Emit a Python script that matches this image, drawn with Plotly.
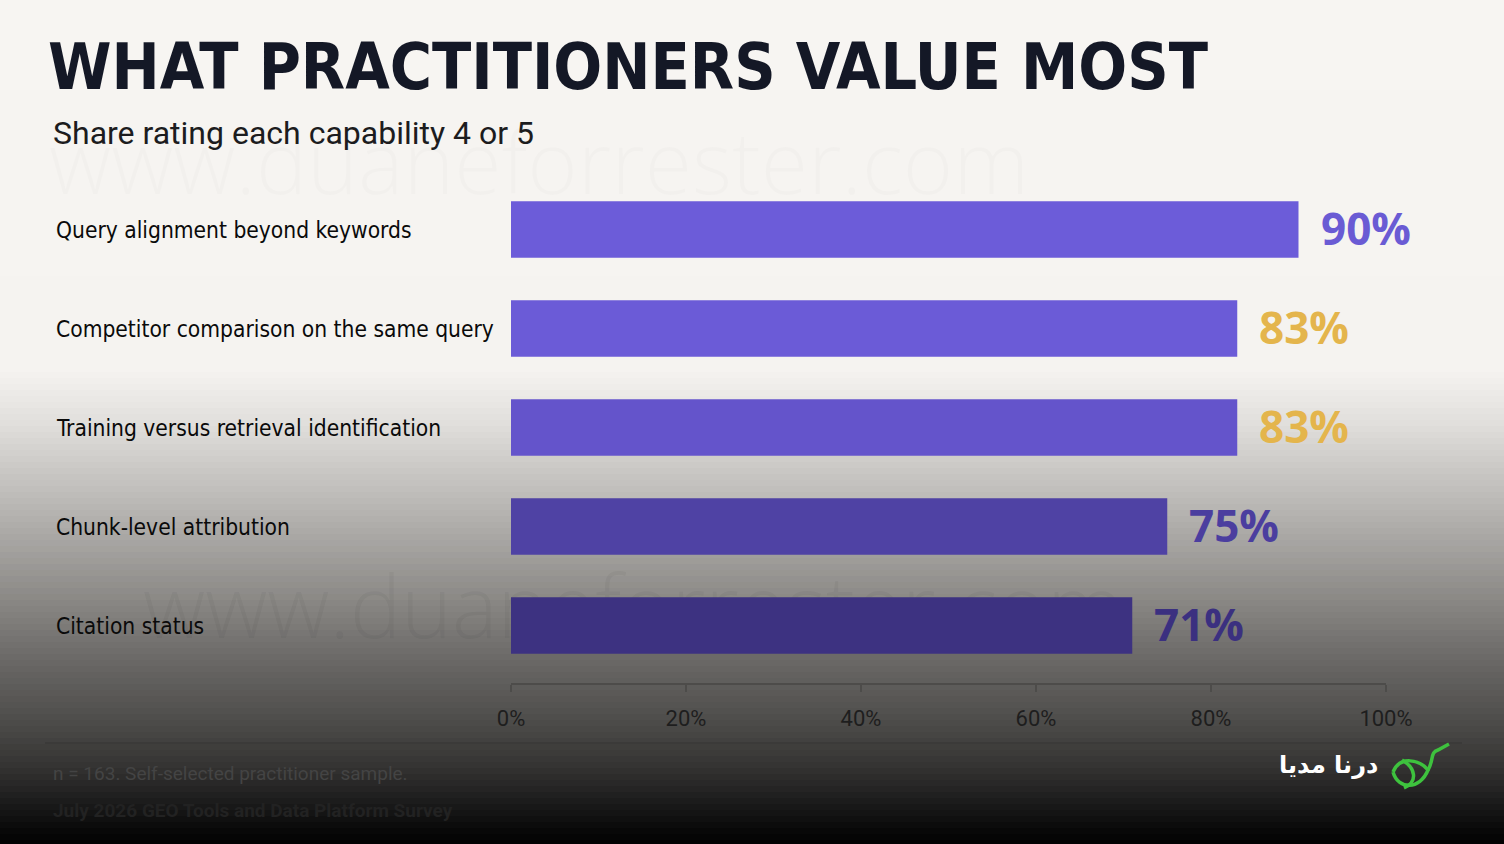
import plotly.graph_objects as go

# ---- data ----
capabilities = [
    "Query alignment beyond keywords",
    "Competitor comparison on the same query",
    "Training versus retrieval identification",
    "Chunk-level attribution",
    "Citation status",
]
share_rating_4_or_5 = [90, 83, 83, 75, 71]
axis_ticks = [0, 20, 40, 60, 80, 100]

title_text = "WHAT PRACTITIONERS VALUE MOST"
subtitle_text = "Share rating each capability 4 or 5"
watermark_text = "www.duaneforrester.com"
note_text = "n = 163. Self-selected practitioner sample."
source_text = "July 2026 GEO Tools and Data Platform Survey"
brand_text = "درنا مدیا"

# ---- styling ----
bar_colors = ["#6c5cd9", "#6b5bd7", "#6454cb", "#4f42a4", "#3d3281"]
value_colors = ["#6a5bd4", "#e4b54c", "#e4b54c", "#4b3e9f", "#3b3080"]
COND = "DejaVu Sans Condensed, Roboto"

W, H = 1504, 844
PLOT_L, PLOT_R = 511, 1386
PLOT_T, PLOT_B = 180, 683


def px_x(x):
    return (x - PLOT_L) / (PLOT_R - PLOT_L)


def px_y(y):
    return (PLOT_B - y) / (PLOT_B - PLOT_T)


def lerp_color(stops, y):
    for (y0, c0), (y1, c1) in zip(stops, stops[1:]):
        if y0 <= y <= y1:
            t = (y - y0) / (y1 - y0) if y1 > y0 else 0
            return "rgb(%d,%d,%d)" % tuple(round(a + (b - a) * t) for a, b in zip(c0, c1))
    return "rgb(%d,%d,%d)" % stops[-1][1]


bg_stops = [
    (0, (247, 245, 242)),
    (370, (245, 243, 240)),
    (420, (226, 224, 221)),
    (480, (197, 195, 192)),
    (540, (168, 166, 163)),
    (600, (138, 136, 133)),
    (660, (106, 104, 102)),
    (720, (78, 77, 75)),
    (770, (50, 49, 48)),
    (810, (22, 22, 22)),
    (844, (0, 0, 0)),
]

shapes = []
step = 6
for y in range(0, H, step):
    shapes.append(dict(
        type="rect", xref="paper", yref="paper", layer="below",
        x0=px_x(-5), x1=px_x(W + 5), y0=px_y(y + step + 1), y1=px_y(y),
        fillcolor=lerp_color(bg_stops, y + step / 2), line=dict(width=0),
    ))

# watermarks drawn as labels of empty shapes so they sit under the bars
for wx, wy, wcol in [(46, 166, "rgba(0,0,0,0.017)"), (140, 610, "rgba(30,30,30,0.045)")]:
    shapes.append(dict(
        type="rect", xref="paper", yref="paper", layer="below",
        x0=px_x(wx), x1=px_x(wx + 1000), y0=px_y(wy + 40), y1=px_y(wy - 40),
        line=dict(width=0), fillcolor="rgba(0,0,0,0)",
        label=dict(text=watermark_text, textposition="middle left", padding=0,
                   font=dict(family="Open Sans", size=86, weight=300, color=wcol)),
    ))

# footer rule
shapes.append(dict(
    type="line", xref="paper", yref="paper",
    x0=px_x(45), x1=px_x(1462), y0=px_y(743), y1=px_y(743),
    line=dict(color="#3b3a39", width=2),
))


def P(x, y):
    return "%.5f,%.5f" % (px_x(x), px_y(y))


# rough brand mark (green crane)
bird = [
    "M" + P(1393, 772) + " C" + P(1400, 755) + " " + P(1420, 760) + " " + P(1428, 770)
    + " C" + P(1420, 790) + " " + P(1398, 790) + " " + P(1393, 772),
    "M" + P(1402, 760) + " C" + P(1416, 768) + " " + P(1418, 782) + " " + P(1404, 788),
    "M" + P(1428, 770) + " C" + P(1434, 760) + " " + P(1430, 752) + " " + P(1438, 750)
    + " L" + P(1449, 744),
]
for d in bird:
    shapes.append(dict(type="path", xref="paper", yref="paper", path=d,
                       line=dict(color="#3ec23e", width=3.5)))

fig = go.Figure()
fig.add_trace(go.Bar(
    x=share_rating_4_or_5,
    y=capabilities,
    orientation="h",
    marker=dict(color=bar_colors, line=dict(width=0)),
    hoverinfo="skip",
))

annotations = []
# title and subtitle
annotations.append(dict(
    text=title_text, xref="paper", yref="paper", x=px_x(46), y=px_y(67),
    xanchor="left", yanchor="middle", showarrow=False,
    font=dict(family=COND, size=64, weight=700, color="#141826"),
))
annotations.append(dict(
    text=subtitle_text, xref="paper", yref="paper", x=px_x(51), y=px_y(133),
    xanchor="left", yanchor="middle", showarrow=False,
    font=dict(family="Roboto", size=32, color="#1c1c1e"),
))
# category labels
for cap in capabilities:
    annotations.append(dict(
        text=cap, xref="paper", yref="y", x=px_x(54), y=cap,
        xanchor="left", yanchor="middle", showarrow=False,
        font=dict(family=COND, size=22.6, color="#0a0a0a"),
    ))
# value labels
for cap, val, col in zip(capabilities, share_rating_4_or_5, value_colors):
    annotations.append(dict(
        text="%d%%" % val, xref="x", yref="y", x=val, y=cap,
        xanchor="left", yanchor="middle", xshift=20, yshift=2, showarrow=False,
        font=dict(family="Open Sans", size=44, weight=700, color=col),
    ))
# footer
annotations.append(dict(
    text=note_text, xref="paper", yref="paper", x=px_x(51), y=px_y(773),
    xanchor="left", yanchor="middle", showarrow=False,
    font=dict(family="Roboto", size=19, color="#444444"),
))
annotations.append(dict(
    text="<b>" + source_text + "</b>", xref="paper", yref="paper", x=px_x(51), y=px_y(810),
    xanchor="left", yanchor="middle", showarrow=False,
    font=dict(family="Roboto", size=19, color="#222222"),
))
annotations.append(dict(
    text="<b>" + brand_text + "</b>", xref="paper", yref="paper", x=px_x(1380), y=px_y(765),
    xanchor="right", yanchor="middle", showarrow=False,
    font=dict(family="DejaVu Sans", size=24, color="#ffffff"),
))

fig.update_layout(
    width=W, height=H,
    margin=dict(l=PLOT_L, r=W - PLOT_R, t=PLOT_T, b=H - PLOT_B, pad=0),
    paper_bgcolor="#000000",
    plot_bgcolor="rgba(0,0,0,0)",
    showlegend=False,
    bargap=0.43,
    shapes=shapes,
    annotations=annotations,
)
fig.update_xaxes(
    range=[0, 100], tickvals=axis_ticks, ticktext=["%d%%" % t for t in axis_ticks],
    showgrid=False, zeroline=False,
    showline=True, linecolor="#4d4c4a", linewidth=2,
    ticks="outside", ticklen=7, tickwidth=2, tickcolor="#4d4c4a",
    ticklabelstandoff=8,
    tickfont=dict(family="Roboto", size=22, color="#1e1e1e"),
    fixedrange=True,
)
fig.update_yaxes(
    categoryorder="array", categoryarray=capabilities,
    range=[4.58, -0.5], showticklabels=False, showgrid=False,
    zeroline=False, showline=False, fixedrange=True,
)

fig.write_html(
    "out.html",
    config={"displayModeBar": False},
    post_script="document.body.style.margin='0';",
)
